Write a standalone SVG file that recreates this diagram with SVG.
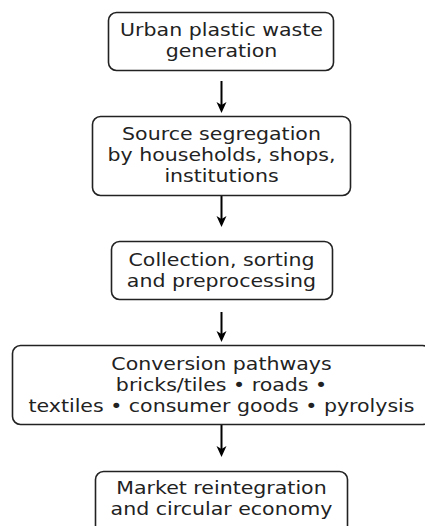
<svg xmlns="http://www.w3.org/2000/svg" width="425" height="526" viewBox="0 0 425 526">
<defs>
<style>
.box{fill:#fff;stroke:#222;stroke-width:1.6}
.t{font-family:"DejaVu Sans",sans-serif;font-size:18px;fill:#222;text-anchor:middle}
.s{transform:translate(221.5px,0) scale(1.14,1) translate(-221.5px,0)}
.c{stroke:#000;stroke-width:2;fill:none}
.h{fill:#000}
</style>
</defs>
<rect width="425" height="526" fill="#fff"/>
<g id="connectors">
<line class="c" x1="221.5" y1="81" x2="221.5" y2="106"/>
<path class="h" d="M216.5,102 L221.5,113 L226.5,102 L221.5,105 Z"/>
<line class="c" x1="221.5" y1="195" x2="221.5" y2="220"/>
<path class="h" d="M216.5,216 L221.5,227 L226.5,216 L221.5,219 Z"/>
<line class="c" x1="221.5" y1="312" x2="221.5" y2="335"/>
<path class="h" d="M216.5,331 L221.5,342 L226.5,331 L221.5,334 Z"/>
<line class="c" x1="221.5" y1="425" x2="221.5" y2="450"/>
<path class="h" d="M216.5,446 L221.5,457 L226.5,446 L221.5,449 Z"/>
</g>
<g id="n1">
<rect class="box" x="108.5" y="12.5" width="225" height="58" rx="8"/>
<g class="s">
<text class="t" x="221.5" y="36">Urban plastic waste</text>
<text class="t" x="221.5" y="57">generation</text>
</g>
</g>
<g id="n2">
<rect class="box" x="92.5" y="116.5" width="258" height="79" rx="8"/>
<g class="s">
<text class="t" x="221.5" y="140">Source segregation</text>
<text class="t" x="221.5" y="161">by households, shops,</text>
<text class="t" x="221.5" y="182">institutions</text>
</g>
</g>
<g id="n3">
<rect class="box" x="111.5" y="241.5" width="221" height="58" rx="8"/>
<g class="s">
<text class="t" x="221.5" y="266">Collection, sorting</text>
<text class="t" x="221.5" y="287">and preprocessing</text>
</g>
</g>
<g id="n4">
<rect class="box" x="12.5" y="345.5" width="418" height="79" rx="8"/>
<g class="s">
<text class="t" x="221.5" y="370">Conversion pathways</text>
<text class="t" x="221.5" y="391">bricks/tiles • roads •</text>
<text class="t" x="221.5" y="412">textiles • consumer goods • pyrolysis</text>
</g>
</g>
<g id="n5">
<rect class="box" x="95.5" y="471.5" width="252" height="70" rx="8"/>
<g class="s">
<text class="t" x="221.5" y="494">Market reintegration</text>
<text class="t" x="221.5" y="515">and circular economy</text>
</g>
</g>
</svg>
